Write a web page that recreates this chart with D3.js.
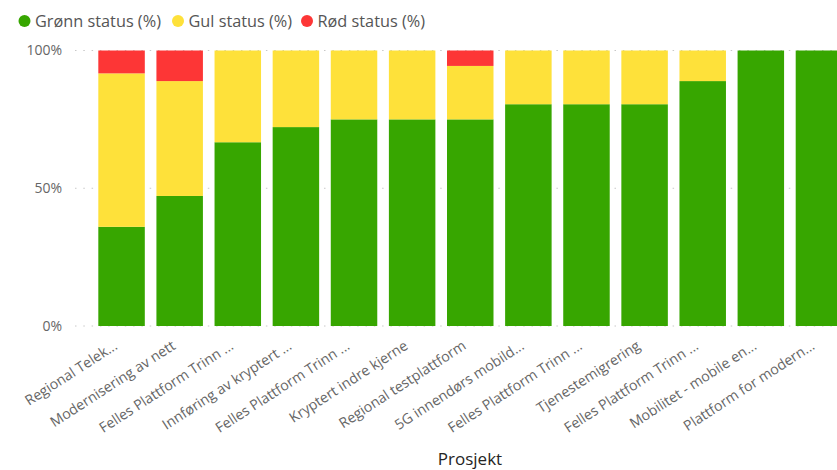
<!DOCTYPE html>
<html><head><meta charset="utf-8">
<script src="https://cdn.jsdelivr.net/npm/d3@7"></script>
<style>
body{margin:0;background:#fff;overflow:hidden}
svg{display:block}
text{font-family:"Open Sans","Noto Sans",sans-serif}
</style></head>
<body><svg id="c" width="837" height="470"></svg>
<script>
const categories = ["Regional Telek...", "Modernisering av nett", "Felles Plattform Trinn ...", "Innføring av kryptert ...", "Felles Plattform Trinn ...", "Kryptert indre kjerne", "Regional testplattform", "5G innendørs mobild...", "Felles Plattform Trinn ...", "Tjenestemigrering", "Felles Plattform Trinn ...", "Mobilitet - mobile en...", "Plattform for modern..."];
const green  = [36, 47.2, 66.7, 72.2, 75, 75, 75, 80.5, 80.5, 80.5, 88.9, 100, 100];
const yellow = [55.7, 41.7, 33.3, 27.8, 25, 25, 19.4, 19.5, 19.5, 19.5, 11.1, 0, 0];
const red    = [8.3, 11.1, 0, 0, 0, 0, 5.6, 0, 0, 0, 0, 0, 0];
const seriesNames = ["Grønn status (%)", "Gul status (%)", "Rød status (%)"];
const colors = ["#37a600", "#fee13a", "#fd3636"];
const yTicks = [0, 50, 100];

const svg = d3.select("#c");
const rows = categories.map((c, i) => ({i, g: green[i], y: yellow[i], r: red[i]}));
const stack = d3.stack().keys(["g", "y", "r"])(rows);

const x = d3.scaleBand().domain(d3.range(categories.length)).range([92.5, 848]).paddingInner(0.2).paddingOuter(0.1);
const y = d3.scaleLinear().domain([0, 100]).range([326, 50.5]);

// gridlines
svg.append("g").selectAll("line").data(yTicks).join("line")
  .attr("x1", 75).attr("x2", 837)
  .attr("y1", d => y(d)).attr("y2", d => y(d))
  .attr("stroke", "#c8c8c8").attr("stroke-width", 1).attr("stroke-dasharray", "1.5,6.8");

// y labels
svg.append("g").selectAll("text").data(yTicks).join("text")
  .attr("x", 62).attr("y", d => y(d)).attr("dy", "0.35em")
  .attr("text-anchor", "end").attr("fill", "#666").attr("font-size", 14)
  .text(d => d + "%");

// bars
svg.append("g").selectAll("g").data(stack).join("g")
  .attr("fill", (d, k) => colors[k])
  .selectAll("rect").data(d => d.filter(p => p[1] - p[0] > 0)).join("rect")
  .attr("x", d => x(d.data.i)).attr("width", x.bandwidth())
  .attr("y", d => y(d[1])).attr("height", d => y(d[0]) - y(d[1]));

// x labels
svg.append("g").selectAll("text").data(categories).join("text")
  .attr("transform", (d, i) => `translate(${x(i) + x.bandwidth() / 2 - 6},${344}) rotate(-33)`)
  .attr("text-anchor", "end").attr("dy", "0.35em")
  .attr("fill", "#666").attr("font-size", 14.2)
  .text(d => d);

// axis title
svg.append("text").attr("x", 470).attr("y", 465).attr("text-anchor", "middle")
  .attr("fill", "#252423").attr("font-size", 17).text("Prosjekt");

// legend
const legX = [24.5, 178, 307];
const lg = svg.append("g").selectAll("g").data(seriesNames).join("g")
  .attr("transform", (d, k) => `translate(${legX[k]},21)`);
lg.append("circle").attr("r", 6).attr("fill", (d, k) => colors[k]);
lg.append("text").attr("x", 10.5).attr("dy", "0.35em").attr("fill", "#555").attr("font-size", 16.3).text(d => d);
</script></body></html>
